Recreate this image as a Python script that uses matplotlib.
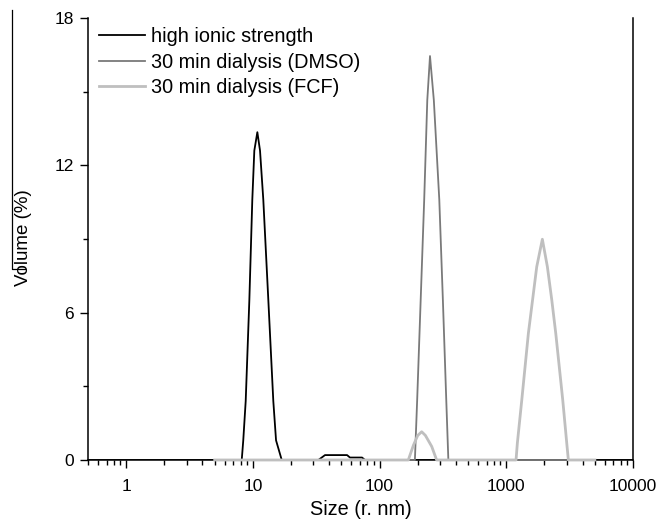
import matplotlib
matplotlib.use("Agg")
import matplotlib.pyplot as plt
from matplotlib.lines import Line2D
from matplotlib.ticker import FixedLocator, LogLocator, NullFormatter

plt.rcParams['font.family'] = ['Liberation Sans', 'DejaVu Sans']

# ---- data (size in nm, volume in %) ----
high_x = [0.4, 8.17, 8.40, 8.78, 9.38, 9.90, 10.27, 10.85, 11.39, 12.09, 13.25, 14.50,
          15.24, 16.90, 32.9, 37.1, 55.4, 58.4, 72.7, 76.8, 10000]
high_y = [0, 0, 0.8, 2.4, 6.5, 10.6, 12.6, 13.35, 12.6, 10.6, 6.5, 2.4,
          0.8, 0, 0, 0.2, 0.2, 0.1, 0.1, 0, 0]

dmso_x = [5, 190, 198, 211, 225, 238, 250, 268, 296, 316, 336, 349, 5000]
dmso_y = [0, 0, 2.44, 6.5, 10.6, 14.66, 16.45, 14.66, 10.6, 6.5, 2.44, 0, 0]

fcf_x = [5, 168.6, 185, 200, 215, 230, 258, 282, 1194, 1223, 1325, 1494, 1739, 1926,
         2110, 2285, 2457, 2790, 3000, 3089, 5000]
fcf_y = [0, 0, 0.6, 1.0, 1.15, 1.0, 0.55, 0, 0, 0.69, 2.44, 5.16, 7.87, 8.99,
         7.87, 6.52, 5.16, 2.44, 0.69, 0, 0]

labels = ["high ionic strength", "30 min dialysis (DMSO)", "30 min dialysis (FCF)"]
x_ticks = [1, 10, 100, 1000, 10000]
x_ticklabels = ["1", "10", "100", "1000", "10000"]
y_ticks = [0, 6, 12, 18]
y_minor = [3, 9, 15]

W, H = 659, 525
fig = plt.figure(figsize=(W / 100, H / 100), dpi=100)
ax = fig.add_axes([88 / W, 1 - 460 / H, (633 - 88) / W, (460 - 18) / H])

ax.plot(high_x, high_y, color='black', lw=1.3, zorder=3, label=labels[0])
ax.plot(dmso_x, dmso_y, color='#7a7a7a', lw=1.3, zorder=3, clip_on=False, label=labels[1])
ax.plot(fcf_x, fcf_y, color='#bfbfbf', lw=2.0, zorder=3, clip_on=False, label=labels[2])

ax.set_xscale('log')
ax.set_xlim(0.5, 10000)
ax.set_ylim(0, 18)

ax.set_xticks(x_ticks)
ax.set_xticklabels(x_ticklabels)
ax.xaxis.set_minor_locator(LogLocator(base=10, subs=range(2, 10)))
ax.xaxis.set_minor_formatter(NullFormatter())
ax.set_yticks(y_ticks)
ax.yaxis.set_minor_locator(FixedLocator(y_minor))

ax.tick_params(which='major', direction='out', length=6, width=1.0, labelsize=12.5, pad=4)
ax.tick_params(which='minor', direction='out', length=3.5, width=1.0)
ax.tick_params(axis='x', which='major', pad=8)

ax.spines['top'].set_visible(False)
for s in ['left', 'bottom', 'right']:
    ax.spines[s].set_linewidth(1.1)

ax.set_xlabel("Size (r. nm)", fontsize=14.3, labelpad=4)
ax.set_ylabel("Volume (%)", fontsize=13.5)
ax.yaxis.set_label_coords(-(88 - 32) / 545, (460 - 238) / 442)

leg = ax.legend(loc='upper left', bbox_to_anchor=((99 - 88) / 545, (460 - 27) / 442),
                frameon=False, fontsize=14.3, handlelength=2.3, handletextpad=0.34,
                labelspacing=0.33, borderpad=0, borderaxespad=0)
for h in leg.legend_handles:
    h.set_linewidth(1.3)
leg.legend_handles[2].set_linewidth(2.0)

# scan artifact line at left edge
fig.add_artist(Line2D([12 / W, 12 / W, 25 / W], [1 - 10 / H, 1 - 269 / H, 1 - 269 / H],
                      color='black', lw=0.9))

fig.savefig("out.png", dpi=100)
